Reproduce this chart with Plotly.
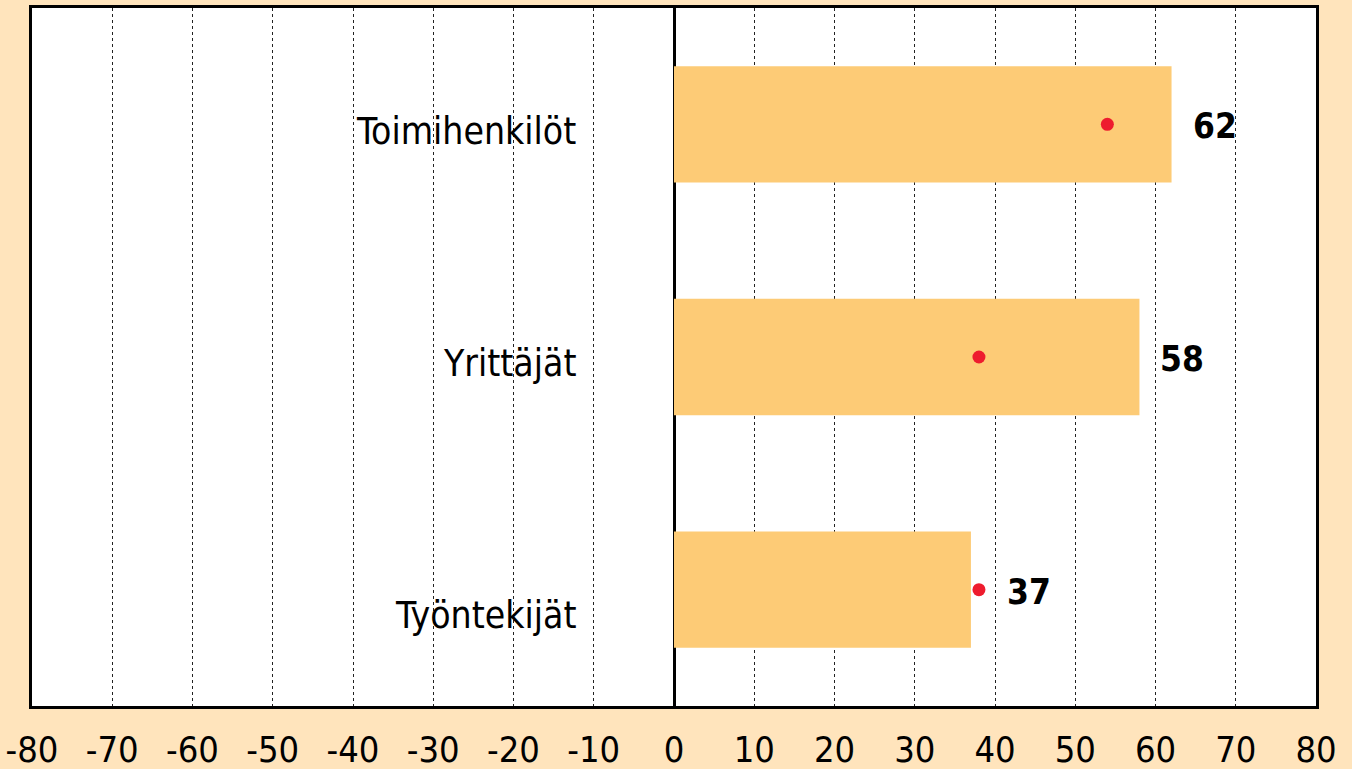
import plotly.graph_objects as go

categories = ["Työntekijät", "Yrittäjät", "Toimihenkilöt"]
bar_values = [37, 58, 62]
dot_values = [38, 38, 54]
tick_vals = list(range(-80, 81, 10))
tick_text = ["-80", "-70", "-60", "-50", "-40", "-30", "-20", "-10", "0",
             "10", "20", "30", "40", "50", "60", "70", "80"]

FONT = "DejaVu Sans Condensed, Liberation Sans Narrow, sans-serif"
BG = "#FFE4BC"

fig = go.Figure()
fig.add_trace(go.Bar(
    y=categories, x=bar_values, orientation="h",
    marker=dict(color="#FDCB76", line=dict(width=0)),
    width=0.5, hoverinfo="skip",
))
fig.add_trace(go.Scatter(
    y=categories, x=dot_values, mode="markers",
    marker=dict(color="#EE1C2E", size=13), hoverinfo="skip",
))

cat_yshift = [-26, -6, -7]
val_xshift = [34, 19, 19]
for i, c in enumerate(categories):
    fig.add_annotation(x=-12, y=c, text=c, showarrow=False, xanchor="right",
                       yshift=cat_yshift[i],
                       font=dict(family=FONT, size=37, color="black"))
    fig.add_annotation(x=bar_values[i], y=c, text="<b>%d</b>" % bar_values[i],
                       showarrow=False, xanchor="left", xshift=val_xshift[i], yshift=-2,
                       font=dict(family=FONT, size=35, color="black"))

fig.update_layout(
    width=1352, height=769,
    paper_bgcolor=BG, plot_bgcolor="white",
    margin=dict(l=32, r=36, t=8, b=63, autoexpand=False),
    showlegend=False,
    bargap=0.5,
)
fig.update_xaxes(
    range=[-80, 80], tickvals=tick_vals, ticktext=tick_text,
    showgrid=True, gridcolor="#222222", griddash="dot", gridwidth=1,
    zeroline=True, zerolinecolor="black", zerolinewidth=3,
    showline=True, linecolor="black", linewidth=3, mirror=True,
    ticks="", ticklabelstandoff=10, automargin=False,
    tickfont=dict(family=FONT, size=36, color="black"),
)
fig.update_yaxes(
    range=[-0.5, 2.5], showticklabels=False, showgrid=False, zeroline=False,
    showline=True, linecolor="black", linewidth=3, mirror=True, ticks="",
    automargin=False,
)

fig.write_html(
    "out.html",
    config={"displayModeBar": False},
    post_script="document.body.style.margin='0';document.body.style.overflow='hidden';"
                "document.body.style.background='" + BG + "';",
)
